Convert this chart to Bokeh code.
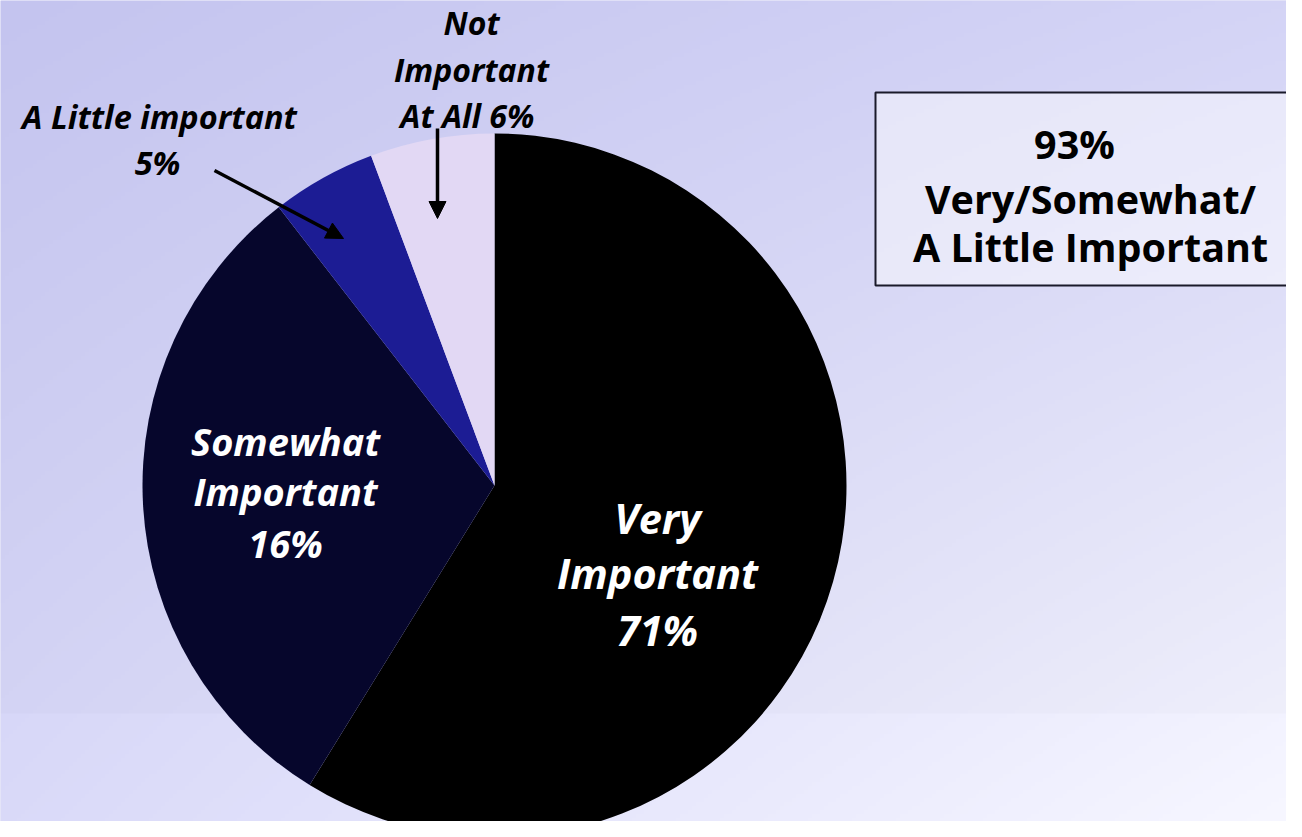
import numpy as np
from bokeh.plotting import figure
from bokeh.models import Range1d, Arrow, NormalHead, ColumnDataSource
from bokeh.core.properties import value
from bokeh.embed import file_html
from bokeh.resources import INLINE

# ---------------- data ----------------
categories = ["Very Important", "Somewhat Important", "A Little important", "Not Important At All"]
label_pct = [71, 16, 5, 6]                 # percentages printed on the chart
slice_share = [58.8, 30.7, 4.8, 5.7]       # angular share of each drawn slice
slice_colors = ["#000000", "#06062c", "#1c1c94", "#e2d8f4"]
summary_lines = ["93%", "Very/Somewhat/", "A Little Important"]

# ---------------- layout ----------------
W, H = 1302, 837
PW, PH = 1286, 821
def Y(v):
    return H - v

p = figure(width=PW, height=PH,
           x_range=Range1d(0, PW), y_range=Range1d(H - PH, H),
           output_backend="svg", toolbar_location=None, min_border=0)
p.axis.visible = False
p.xgrid.visible = False
p.ygrid.visible = False
p.outline_line_color = None
p.background_fill_color = "#d2d2f3"
p.border_fill_color = "#d2d2f3"

# background gradient
rows, cols = 210, 326
ypix = H * (1 - (np.arange(rows) + 0.5) / rows)
xpix = W * (np.arange(cols) + 0.5) / cols
u = (xpix / W)[None, :]
v = (ypix / H)[:, None]
TL = np.array([196, 196, 239.0]); TR = np.array([212, 212, 246.0])
BL = np.array([214, 214, 245.0]); BR = np.array([244, 244, 252.0])
col = (TL[None, None, :] * ((1 - u) * (1 - v))[..., None] + TR * (u * (1 - v))[..., None]
       + BL * ((1 - u) * v)[..., None] + BR * (u * v)[..., None])
col[ypix > 715] += 4
col = np.clip(col, 0, 255)
img = np.empty((rows, cols), dtype=np.uint32)
view = img.view(dtype=np.uint8).reshape((rows, cols, 4))
view[..., 0] = col[..., 0]
view[..., 1] = col[..., 1]
view[..., 2] = col[..., 2]
view[..., 3] = 255
p.image_rgba(image=[img], x=0, y=0, dw=W, dh=H)

# pie
cx, cy, R = 494, 485, 352
share = np.array(slice_share, dtype=float)
cum = np.concatenate([[0], np.cumsum(share)]) / share.sum() * 2 * np.pi
src = ColumnDataSource(dict(
    cat=categories, color=slice_colors,
    start=np.pi / 2 - cum[:-1], end=np.pi / 2 - cum[1:]))
p.wedge(x=cx, y=Y(cy), radius=R, start_angle="start", end_angle="end", direction="clock",
        fill_color="color", line_color=None, source=src)

# labels
FONT = "Open Sans"
def lines(xs, ys, texts, size, color, style="bold italic"):
    p.text(x=xs, y=[Y(b) for b in ys], text=texts, text_align="center",
           text_baseline="alphabetic", text_font=value(FONT), text_font_size=f"{size}px",
           text_font_style=style, text_color=color)

very_lines = ["Very", "Important", f"{label_pct[0]}%"]
somewhat_lines = ["Somewhat", "Important", f"{label_pct[1]}%"]
little_lines = ["A Little important", f"{label_pct[2]}%"]
not_lines = ["Not", "Important", f"At All  {label_pct[3]}%"]

lines([657] * 3, [517, 572, 629], very_lines, 41.5, "white")
lines([285] * 3, [440, 490, 542], somewhat_lines, 38, "white")
lines([159, 157], [116, 162], little_lines, 32.5, "black")
lines([471] * 3, [22, 69, 115], not_lines, 32, "black")

# callout arrows
p.add_layout(Arrow(end=NormalHead(size=17, fill_color="black", line_color="black"),
                   x_start=214, y_start=Y(170), x_end=343, y_end=Y(238),
                   line_width=3.5, line_color="black"))
p.add_layout(Arrow(end=NormalHead(size=17, fill_color="black", line_color="black"),
                   x_start=437, y_start=Y(128), x_end=437, y_end=Y(218),
                   line_width=3.5, line_color="black"))

# summary box
p.quad(left=875, right=1300, bottom=Y(285), top=Y(92), fill_color="white", fill_alpha=0.45,
       line_color="#1a1a2a", line_width=2)
lines([1074, 1090, 1090], [143, 198, 246], summary_lines, 39.5, "black", style="bold")

open("out.html", "w").write(file_html(p, INLINE))
